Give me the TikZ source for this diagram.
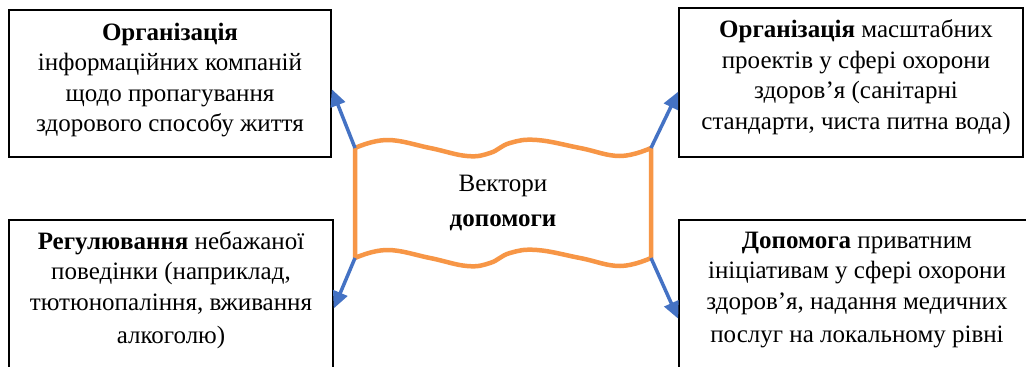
\documentclass[tikz,border=0pt]{standalone}
\usepackage{fontspec}
\setmainfont{Liberation Serif}
\newfontfamily\vfont{Liberation Serif}
\usetikzlibrary{arrows.meta,positioning}
\definecolor{vektorblue}{RGB}{68,114,196}
\definecolor{vektororange}{RGB}{247,150,70}
\tikzset{
    %Define standard arrow tip
    >={Triangle[length=17pt,width=15pt]},
    %Define style for boxes
    ramka/.style={
           rectangle,
           draw=black, line width=1.5pt,
           inner sep=0pt},
    tekst/.style={
           align=center,
           inner sep=0pt,
           font=\vfont\fontsize{25}{30.5}\selectfont},
    % Define arrow style
    pil/.style={
           ->,
           draw=vektorblue, line width=3.5pt},
    hvylya/.style={
           draw=vektororange, line width=4.5pt, line join=round}
}
\begin{document}
\begin{tikzpicture}[x=1pt,y=-1pt]
\clip (0,0) rectangle (1026,367);
\fill[white] (0,0) rectangle (1026,367);
% frames
\node[ramka, minimum width=322pt, minimum height=147pt] (tlbox) at (170,83.5) {};
\node[ramka, minimum width=344pt, minimum height=149pt] (trbox) at (851,82.5) {};
\node[ramka, minimum width=324pt, minimum height=160pt] (blbox) at (171,300) {};
\node[ramka, minimum width=356pt, minimum height=160pt] (brbox) at (857,300) {};
% texts
\node[tekst] (tltext) at (170,80) {\textbf{Організація}\\інформаційних компаній\\щодо пропагування\\здорового способу життя};
\node[tekst] (trtext) at (856,77) {\textbf{Організація} масштабних\\проектів у сфері охорони\\здоров’я (санітарні\\стандарти, чиста питна вода)};
\node[tekst] (bltext) at (171,290) {\textbf{Регулювання} небажаної\\поведінки (наприклад,\\тютюнопаління, вживання\\[3pt]алкоголю)};
\node[tekst] (brtext) at (857,290) {\textbf{Допомога} приватним\\ініціативам у сфері охорони\\здоров’я, надання медичних\\[3pt]послуг на локальному рівні};
% wavy centre
\coordinate (wtl) at (355,148);
\coordinate (wtr) at (651,148);
\coordinate (wbl) at (355,258);
\coordinate (wbr) at (651,258);
\draw[hvylya] plot[smooth, tension=0.7] coordinates {(wtl) (387,140) (430,148) (467,156) (490,153) (510,143) (537,140) (580,148) (620,156) (wtr)}
   -- (wbr)
   -- plot[smooth, tension=0.7] coordinates {(wbr) (620,266) (580,258) (537,250) (510,253) (490,263) (467,266) (430,258) (387,250) (wbl)}
   -- cycle;
\node[tekst, font=\vfont\fontsize{25}{35}\selectfont] (vektory) at (503,203) {Вектори\\\textbf{допомоги}};
% arrows
\draw[pil] (wtl) -- (tlbox.-2);
\draw[pil] (wtr) -- (trbox.183.5);
\draw[pil] (wbl) -- (blbox.-3.5);
\draw[pil] (wbr) -- (brbox.186);
\end{tikzpicture}
\end{document}
